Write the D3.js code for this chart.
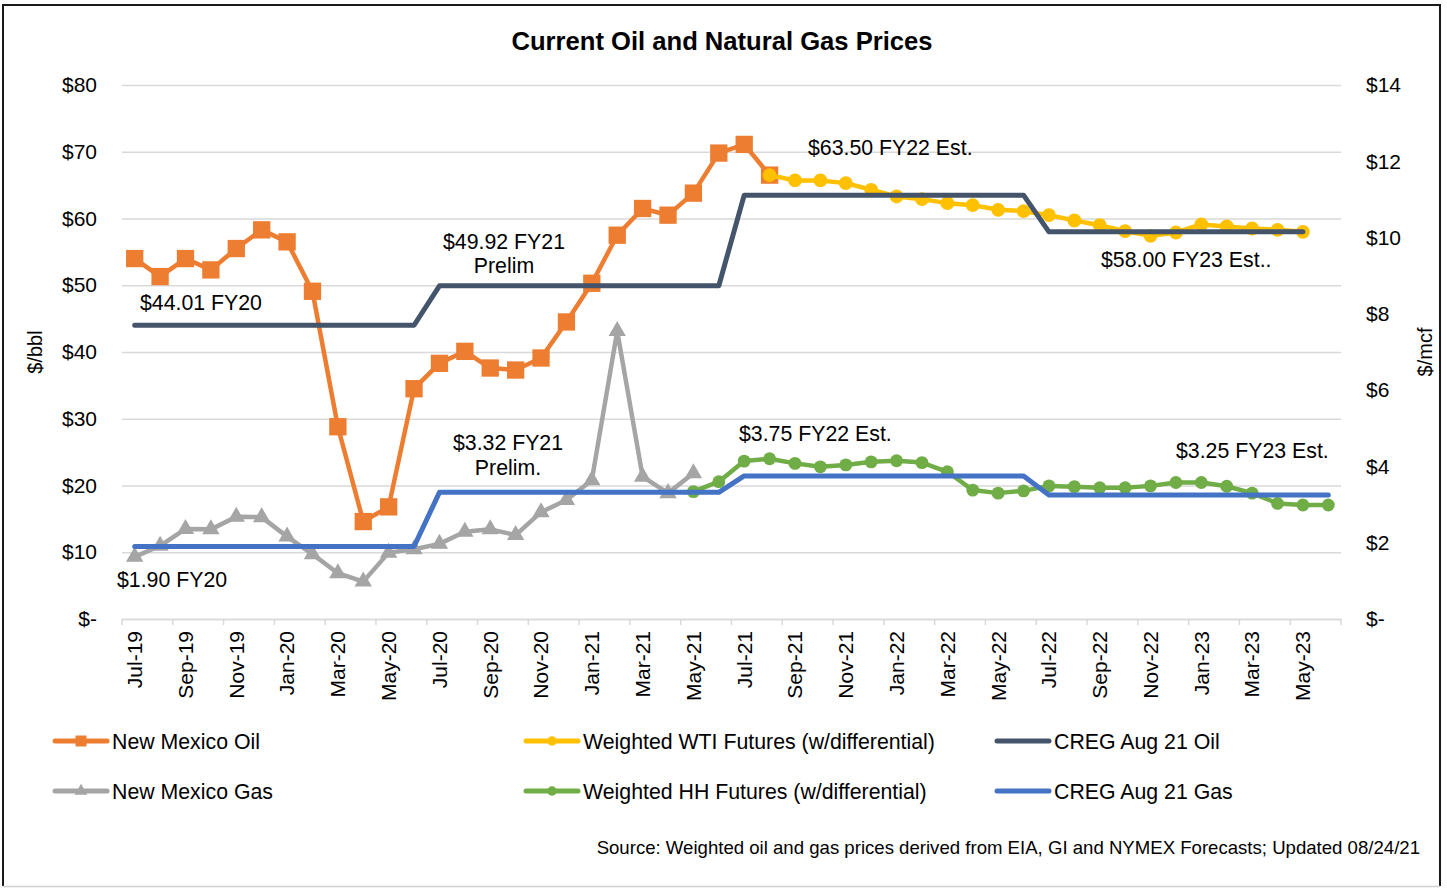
<!DOCTYPE html>
<html>
<head>
<meta charset="utf-8">
<script src="https://cdn.jsdelivr.net/npm/d3@7"></script>
<style>
  html, body { margin: 0; padding: 0; background: #fff; }
  svg { display: block; font-family: "Liberation Sans", Arial, sans-serif; }
</style>
</head>
<body>
<svg id="chart" width="1447" height="888"></svg>
<script>
// ---------- DATA ----------
const categories = ["Jul-19","Aug-19","Sep-19","Oct-19","Nov-19","Dec-19","Jan-20","Feb-20","Mar-20","Apr-20","May-20","Jun-20",
  "Jul-20","Aug-20","Sep-20","Oct-20","Nov-20","Dec-20","Jan-21","Feb-21","Mar-21","Apr-21","May-21","Jun-21",
  "Jul-21","Aug-21","Sep-21","Oct-21","Nov-21","Dec-21","Jan-22","Feb-22","Mar-22","Apr-22","May-22","Jun-22",
  "Jul-22","Aug-22","Sep-22","Oct-22","Nov-22","Dec-22","Jan-23","Feb-23","Mar-23","Apr-23","May-23","Jun-23"];

const tickLabels = ["Jul-19","Sep-19","Nov-19","Jan-20","Mar-20","May-20","Jul-20","Sep-20","Nov-20","Jan-21","Mar-21","May-21",
  "Jul-21","Sep-21","Nov-21","Jan-22","Mar-22","May-22","Jul-22","Sep-22","Nov-22","Jan-23","Mar-23","May-23"];

const leftTicks = [0,10,20,30,40,50,60,70,80];
const rightTicks = [0,2,4,6,8,10,12,14];

// New Mexico Oil ($/bbl), Jul-19 .. Aug-21
const nmOil = [54.0,51.3,54.0,52.3,55.5,58.3,56.5,49.1,28.8,14.6,16.8,34.5,
  38.3,40.1,37.6,37.3,39.1,44.5,50.3,57.5,61.5,60.5,63.8,69.8,71.1,66.5];
// Weighted WTI Futures ($/bbl), Aug-21 .. May-23
const wtiFutures = [66.5,65.7,65.7,65.3,64.3,63.3,62.9,62.3,62.0,61.3,61.1,
  60.5,59.7,59.0,58.1,57.4,57.9,59.1,58.8,58.5,58.3,58.0];
// CREG Aug 21 Oil ($/bbl), Jul-19 .. May-23
const cregOil = [44.01,44.01,44.01,44.01,44.01,44.01,44.01,44.01,44.01,44.01,44.01,44.01,
  49.92,49.92,49.92,49.92,49.92,49.92,49.92,49.92,49.92,49.92,49.92,49.92,
  63.50,63.50,63.50,63.50,63.50,63.50,63.50,63.50,63.50,63.50,63.50,63.50,
  58.00,58.00,58.00,58.00,58.00,58.00,58.00,58.00,58.00,58.00,58.00];
// New Mexico Gas ($/mcf), Jul-19 .. May-21
const nmGas = [1.63,1.92,2.36,2.35,2.68,2.67,2.16,1.70,1.20,0.98,1.74,1.83,
  1.97,2.29,2.35,2.20,2.80,3.12,3.64,7.55,3.73,3.30,3.82];
// Weighted HH Futures ($/mcf), May-21 .. Jun-23
const hhFutures = [3.34,3.60,4.14,4.20,4.08,3.99,4.04,4.12,4.15,4.10,3.86,3.38,3.30,3.36,
  3.49,3.47,3.44,3.44,3.49,3.58,3.58,3.48,3.30,3.03,2.99,2.99];
// CREG Aug 21 Gas ($/mcf), Jul-19 .. Jun-23
const cregGas = [1.90,1.90,1.90,1.90,1.90,1.90,1.90,1.90,1.90,1.90,1.90,1.90,
  3.32,3.32,3.32,3.32,3.32,3.32,3.32,3.32,3.32,3.32,3.32,3.32,
  3.75,3.75,3.75,3.75,3.75,3.75,3.75,3.75,3.75,3.75,3.75,3.75,
  3.25,3.25,3.25,3.25,3.25,3.25,3.25,3.25,3.25,3.25,3.25,3.25];

// ---------- LAYOUT ----------
const svg = d3.select("#chart");
const L = 122, R = 1341, T = 85, B = 619;
const FONT = "Liberation Sans, Arial, sans-serif";

const x = d3.scaleBand().domain(categories).range([L, R]).padding(0);
const cx = c => x(c) + x.bandwidth() / 2;
const yL = d3.scaleLinear().domain([0, 80]).range([B, T]);
const yR = d3.scaleLinear().domain([0, 14]).range([B, T]);

// frame
svg.append("path").attr("d", `M3,886 L3,5 L1440,5 L1440,886`).attr("fill", "none").attr("stroke", "#1a1a1a").attr("stroke-width", 2);
svg.append("line").attr("x1", 3).attr("x2", 1440).attr("y1", 886.5).attr("y2", 886.5).attr("stroke", "#d0d0d0").attr("stroke-width", 1.5);

// title
svg.append("text").attr("x", 722).attr("y", 50).attr("text-anchor", "middle")
  .attr("font-size", 25.6).attr("font-weight", "bold").attr("fill", "#000").text("Current Oil and Natural Gas Prices");

// left axis + gridlines
const fmt = v => v === 0 ? "$-" : "$" + v;
const gL = svg.append("g").attr("transform", `translate(${L},0)`)
  .call(d3.axisLeft(yL).tickValues(leftTicks).tickSize(-(R - L)).tickPadding(25).tickFormat(fmt));
gL.select(".domain").remove();
gL.selectAll(".tick line").attr("stroke", "#d9d9d9").attr("stroke-width", 1.5);
gL.selectAll(".tick text").attr("font-size", 21).attr("fill", "#000").attr("font-family", FONT);

// right axis
const gR = svg.append("g").attr("transform", `translate(${R},0)`)
  .call(d3.axisRight(yR).tickValues(rightTicks).tickSize(0).tickPadding(25).tickFormat(fmt));
gR.select(".domain").remove();
gR.selectAll(".tick text").attr("font-size", 21).attr("fill", "#000").attr("font-family", FONT);

// bottom axis
const gB = svg.append("g").attr("transform", `translate(0,${B})`)
  .call(d3.axisBottom(x).tickValues(tickLabels).tickSize(0).tickPadding(0));
gB.select(".domain").attr("stroke", "#d9d9d9").attr("stroke-width", 1.5);
gB.selectAll(".tick text")
  .attr("font-size", 21).attr("fill", "#000").attr("font-family", FONT)
  .attr("text-anchor", "end").attr("dy", "0.35em")
  .attr("transform", "translate(0,12) rotate(-90)").attr("x", 0).attr("y", 0);
// tick marks between categories (every 2 months)
const tickPos = categories.filter((c, i) => i % 2 === 0).map(c => x(c)).concat([x.range()[1]]);
svg.append("g").selectAll("line").data(tickPos).join("line")
  .attr("x1", d => d).attr("x2", d => d).attr("y1", B).attr("y2", B + 6)
  .attr("stroke", "#d9d9d9").attr("stroke-width", 1.5);

// axis titles
svg.append("text").attr("transform", "translate(42,352) rotate(-90)").attr("text-anchor", "middle")
  .attr("font-size", 20).attr("fill", "#000").text("$/bbl");
svg.append("text").attr("transform", "translate(1432,352) rotate(-90)").attr("text-anchor", "middle")
  .attr("font-size", 20).attr("fill", "#000").text("$/mcf");

// ---------- SERIES ----------
function series(values, startIdx, yScale) {
  return values.map((v, i) => ({ c: categories[startIdx + i], v, y: yScale }));
}
const lineGen = d3.line().x(d => cx(d.c)).y(d => d.y(d.v));

function drawLine(data, color, width) {
  svg.append("path").datum(data).attr("d", lineGen).attr("fill", "none")
    .attr("stroke", color).attr("stroke-width", width).attr("stroke-linejoin", "round").attr("stroke-linecap", "round");
}
function drawMarkers(data, color, type, size) {
  svg.append("g").selectAll("path").data(data).join("path")
    .attr("transform", d => `translate(${cx(d.c)},${d.y(d.v)})`)
    .attr("d", d3.symbol().type(type).size(size)).attr("fill", color);
}

const sOil = series(nmOil, 0, yL);
const sWti = series(wtiFutures, 25, yL);
const sCregOil = series(cregOil, 0, yL);
const sGas = series(nmGas, 0, yR);
const sHH = series(hhFutures, 22, yR);
const sCregGas = series(cregGas, 0, yR);

const C_OIL = "#ED7D31", C_WTI = "#FFC000", C_CREGOIL = "#44546A", C_GAS = "#A5A5A5", C_HH = "#70AD47", C_CREGGAS = "#4472C4";

drawLine(sOil, C_OIL, 4.5); drawMarkers(sOil, C_OIL, d3.symbolSquare, 300);
drawLine(sWti, C_WTI, 4.5); drawMarkers(sWti, C_WTI, d3.symbolCircle, 150);
drawLine(sCregOil, C_CREGOIL, 5);
drawLine(sGas, C_GAS, 4.5); drawMarkers(sGas, C_GAS, d3.symbolTriangle, 130);
drawLine(sHH, C_HH, 4.5); drawMarkers(sHH, C_HH, d3.symbolCircle, 130);
drawLine(sCregGas, C_CREGGAS, 5);

// ---------- ANNOTATIONS ----------
const notes = [
  { x: 140, y: 310, t: "$44.01 FY20", a: "start" },
  { x: 504, y: 249, t: "$49.92 FY21", a: "middle" },
  { x: 504, y: 273, t: "Prelim", a: "middle" },
  { x: 808, y: 155, t: "$63.50 FY22 Est.", a: "start" },
  { x: 1101, y: 267, t: "$58.00 FY23 Est..", a: "start" },
  { x: 117, y: 587, t: "$1.90 FY20", a: "start" },
  { x: 508, y: 450, t: "$3.32 FY21", a: "middle" },
  { x: 508, y: 475, t: "Prelim.", a: "middle" },
  { x: 739, y: 441, t: "$3.75 FY22 Est.", a: "start" },
  { x: 1176, y: 458, t: "$3.25 FY23 Est.", a: "start" }
];
svg.append("g").selectAll("text").data(notes).join("text")
  .attr("x", d => d.x).attr("y", d => d.y).attr("text-anchor", d => d.a)
  .attr("font-size", 21.3).attr("fill", "#000").text(d => d.t);

// ---------- LEGEND ----------
const legendItems = [
  { t: "New Mexico Oil", c: C_OIL, m: d3.symbolSquare, s: 120, col: 0, row: 0 },
  { t: "New Mexico Gas", c: C_GAS, m: d3.symbolTriangle, s: 70, col: 0, row: 1 },
  { t: "Weighted WTI Futures (w/differential)", c: C_WTI, m: d3.symbolCircle, s: 70, col: 1, row: 0 },
  { t: "Weighted HH Futures (w/differential)", c: C_HH, m: d3.symbolCircle, s: 70, col: 1, row: 1 },
  { t: "CREG Aug 21 Oil", c: C_CREGOIL, m: null, col: 2, row: 0 },
  { t: "CREG Aug 21 Gas", c: C_CREGGAS, m: null, col: 2, row: 1 }
];
const colX = [53, 524, 995], rowY = [741, 791];
const lg = svg.append("g").selectAll("g").data(legendItems).join("g")
  .attr("transform", d => `translate(${colX[d.col]},${rowY[d.row]})`);
lg.append("line").attr("x1", 2).attr("x2", 54).attr("y1", 0).attr("y2", 0)
  .attr("stroke", d => d.c).attr("stroke-width", 5).attr("stroke-linecap", "round");
lg.filter(d => d.m).append("path").attr("transform", "translate(28,0)")
  .attr("d", d => d3.symbol().type(d.m).size(d.s)()).attr("fill", d => d.c);
lg.append("text").attr("x", 59).attr("y", 7.5).attr("font-size", 21.3).attr("fill", "#000").text(d => d.t);

// source
svg.append("text").attr("x", 1420).attr("y", 853.5).attr("text-anchor", "end")
  .attr("font-size", 18.6).attr("fill", "#000")
  .text("Source: Weighted oil and gas prices derived from EIA, GI and NYMEX Forecasts; Updated 08/24/21");
</script>
</body>
</html>
